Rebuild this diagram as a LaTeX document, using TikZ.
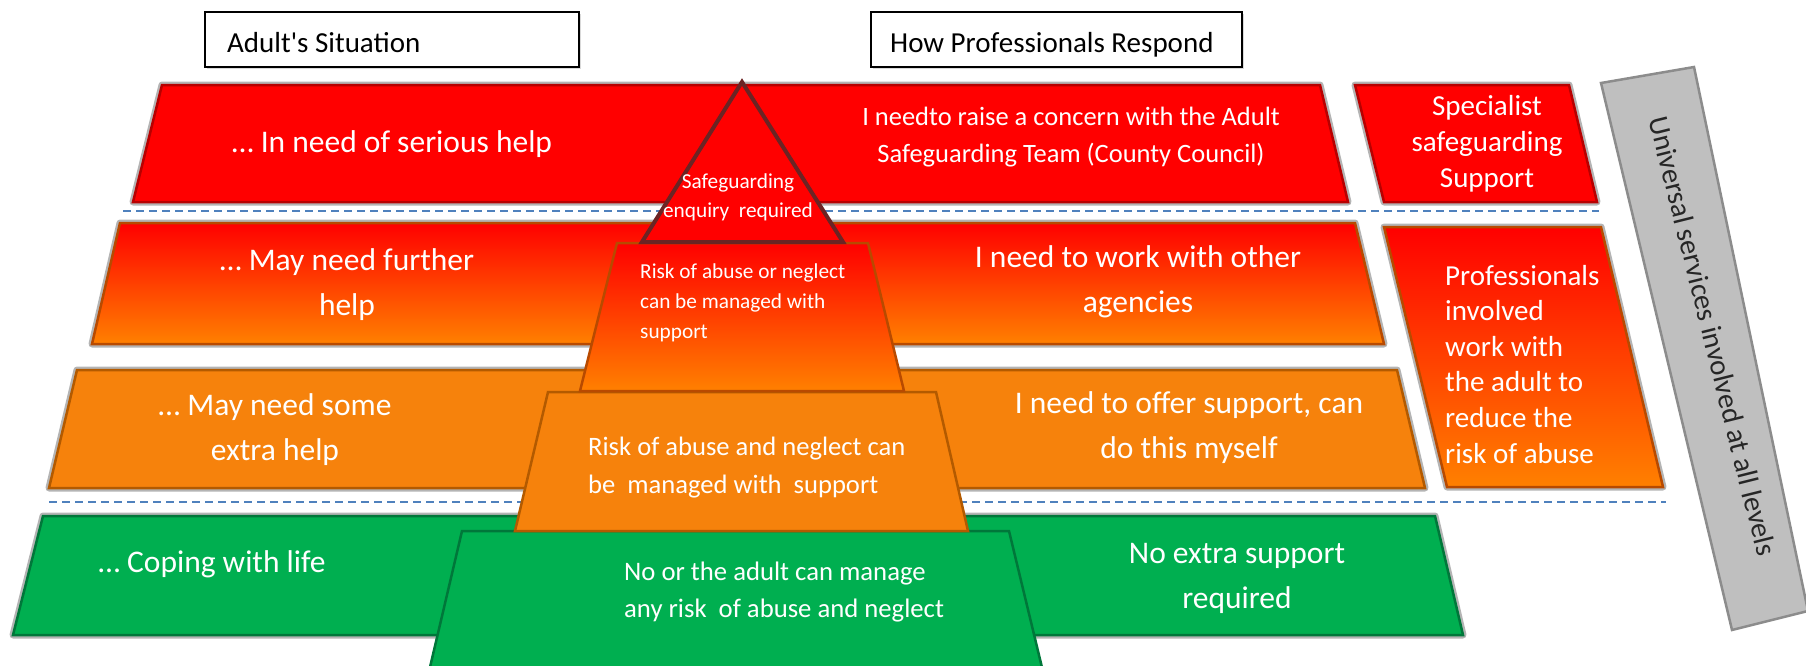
\documentclass[tikz,border=0pt]{standalone}
\usepackage{fontspec}
\setmainfont{Carlito}
\definecolor{bandRed}{HTML}{FF0000}
\definecolor{bandOrange}{HTML}{FF8000}
\definecolor{flatOrange}{HTML}{F6820C}
\definecolor{bandGreen}{HTML}{00AF50}
\definecolor{edgeRed}{HTML}{B80000}
\definecolor{edgeMix}{HTML}{B84A00}
\definecolor{edgeOrange}{HTML}{B35A00}
\definecolor{edgeGreen}{HTML}{00773A}
\definecolor{haloGray}{HTML}{B4B4B4}
\definecolor{guideBlue}{HTML}{4F81BD}
\definecolor{boxGray}{HTML}{BFBFBF}
\definecolor{boxEdge}{HTML}{8C8C8C}
\definecolor{apexEdge}{HTML}{6B2424}
\begin{document}
\begin{tikzpicture}[x=1pt,y=-1pt,
  halo/.style={draw=haloGray,line width=7pt,line join=round},
  band/.style={line width=2.5pt,line join=miter},
  guide/.style={draw=guideBlue,line width=2pt,dash pattern=on 8pt off 5pt},
  header/.style={draw=black,fill=white,line width=1.6pt},
  bigtext/.style={text=white,inner sep=0pt,align=center,anchor=base,
    font=\fontsize{31.5}{44.5}\selectfont},
  smalltext/.style={text=white,inner sep=0pt,anchor=base},
  headtext/.style={text=black,inner sep=0pt,anchor=base west,
    font=\fontsize{29}{35}\selectfont}]
\useasboundingbox (0,0) rectangle (1806,665);
\clip (0,0) rectangle (1806,665);

% column headings
\fill[black!15] (207,14) rectangle (581,69);
\draw[header] (205,12) rectangle (579,67);
\fill[black!15] (873,14) rectangle (1244,69);
\draw[header] (871,12) rectangle (1242,67);
\node[headtext] (hadult) at (227,52) {Adult\textquotesingle s Situation};
\node[headtext] (hprof) at (890,52) {How Professionals Respond};

% soft grey outlines behind the level bands
\foreach \p in {
  {(162,85) -- (1320,85) -- (1348,202) -- (133,202) -- cycle},
  {(1355,85) -- (1569,85) -- (1597,202) -- (1384,202) -- cycle},
  {(120,223) -- (1355,223) -- (1384,344) -- (92,344) -- cycle},
  {(1384,227) -- (1601,227) -- (1663,487) -- (1447,487) -- cycle},
  {(77,370) -- (1397,370) -- (1425,488) -- (49,488) -- cycle},
  {(43,516) -- (1435,516) -- (1463,635) -- (13,635) -- cycle}}
  {\draw[halo] \p;}

% level bands
\draw[band,draw=edgeRed,fill=bandRed] (162,85) -- (1320,85) -- (1348,202) -- (133,202) -- cycle;
\draw[band,draw=edgeRed,fill=bandRed] (1355,85) -- (1569,85) -- (1597,202) -- (1384,202) -- cycle;
\draw[band,draw=edgeMix,top color=bandRed,bottom color=bandOrange] (120,223) -- (1355,223) -- (1384,344) -- (92,344) -- cycle;
\draw[band,draw=edgeMix,top color=bandRed,bottom color=bandOrange] (1384,227) -- (1601,227) -- (1663,487) -- (1447,487) -- cycle;
\draw[band,draw=edgeOrange,fill=flatOrange] (77,370) -- (1397,370) -- (1425,488) -- (49,488) -- cycle;
\draw[band,draw=edgeGreen,fill=bandGreen] (43,516) -- (1435,516) -- (1463,635) -- (13,635) -- cycle;

% dashed separators
\coordinate (s1a) at (123,211); \coordinate (s1b) at (1599,211);
\coordinate (s2a) at (49,502);  \coordinate (s2b) at (1666,502);
\draw[guide] (s1a) -- (s1b);
\draw[guide] (s2a) -- (s2b);

% universal services bar
\draw[line width=2.5pt,draw=boxEdge,fill=boxGray,line join=miter]
  (1601,83) -- (1694,67) -- (1808,611) -- (1732,630) -- cycle;
\node[text=black!85,inner sep=0pt,rotate=-76,font=\fontsize{29}{35}\selectfont]
  (univ) at (1713,336) {Universal services involved at all levels};

% central pyramid
\draw[band,draw=edgeGreen,fill=bandGreen] (462,531) -- (1009,531) -- (1045,680) -- (427,680) -- cycle;
\draw[band,draw=edgeOrange,fill=flatOrange] (548,392) -- (936,392) -- (968,531) -- (515,531) -- cycle;
\draw[band,draw=edgeMix,top color=bandRed,bottom color=bandOrange] (617,243) -- (868,243) -- (904,391) -- (580,391) -- cycle;
\draw[line width=4pt,draw=apexEdge,fill=bandRed,line join=miter] (742,82) -- (843,242) -- (642,242) -- cycle;

% level texts, adult's side
\node[bigtext] (t1) at (392,152) {… In need of serious help};
\node[bigtext] (t4) at (347,315) {… May need further\\help};
\node[bigtext] (t7) at (275,460) {… May need some\\extra help};
\node[bigtext] (t9) at (212,572) {… Coping with life};

% level texts, professionals' side
\node[bigtext,font=\fontsize{26.5}{37}\selectfont] (t2) at (1071,162)
  {I needto raise a concern with the Adult\\Safeguarding Team (County Council)};
\node[bigtext] (t5) at (1138,312) {I need to work with other\\agencies};
\node[bigtext] (t8) at (1189,458) {I need to offer support, can\\do this myself};
\node[bigtext] (t10) at (1237,608) {No extra support\\required};

% right-hand column
\node[bigtext,font=\fontsize{29}{36}\selectfont] (t3) at (1487,187) {Specialist\\safeguarding\\Support};
\node[smalltext,anchor=base west,align=left,font=\fontsize{29}{35.6}\selectfont] (t6) at (1445,463)
  {Professionals\\involved\\work with\\the adult to\\reduce the\\risk of abuse};

% pyramid texts
\node[smalltext,align=center,font=\fontsize{21.3}{29}\selectfont] (p1) at (738,217)
  {Safeguarding\\enquiry\ \ required};
\node[smalltext,anchor=base west,align=left,font=\fontsize{21.3}{30}\selectfont] (p2) at (640,338)
  {Risk of abuse or neglect\\can be managed with\\support};
\node[smalltext,anchor=base west,align=left,font=\fontsize{26.6}{38}\selectfont] (p3) at (588,493)
  {Risk of abuse and neglect can\\be\ \ managed with\ \ support};
\node[smalltext,anchor=base west,align=left,font=\fontsize{26.7}{37}\selectfont] (p4) at (624,617)
  {No or the adult can manage\\any risk\ \ of abuse and neglect};
\end{tikzpicture}
\end{document}
